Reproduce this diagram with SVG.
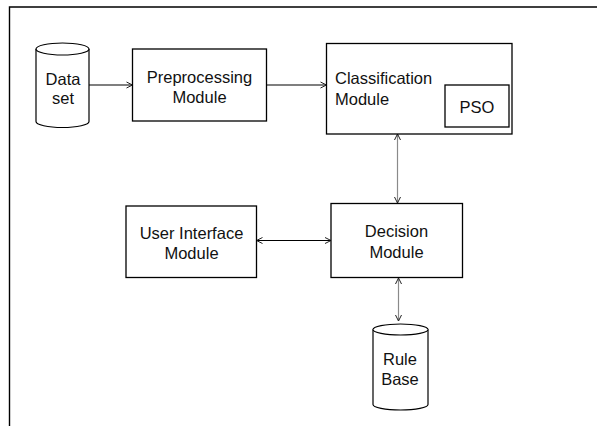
<svg xmlns="http://www.w3.org/2000/svg" width="599" height="426" viewBox="0 0 599 426">
  <defs>
    <marker id="arr" viewBox="0 0 8 8" refX="7" refY="4" markerWidth="8" markerHeight="8" markerUnits="userSpaceOnUse" orient="auto-start-reverse">
      <path d="M1,1 L7,4 L1,7" fill="none" stroke="#222" stroke-width="1"/>
    </marker>
  </defs>
  <style>
    .box { fill: #fff; stroke: #000; stroke-width: 1.3; }
    .cyl { fill: #fff; stroke: #000; stroke-width: 1.2; }
    .lbl { font-family: "Liberation Sans", Arial, sans-serif; font-size: 16.5px; fill: #111; }
    .mid { text-anchor: middle; }
    .line { fill: none; stroke: #000; stroke-width: 1.1; }
    .grey { fill: none; stroke: #8a8a8a; stroke-width: 1.2; }
    .frame { fill: none; stroke: #000; stroke-width: 1.4; }
  </style>
  <rect width="599" height="426" fill="#fff"/>

  <!-- page frame -->
  <path class="frame" d="M9.5,426 L9.5,7 L597,7"/>

  <g id="connectors">
    <line class="line" x1="89" y1="85" x2="132.5" y2="85" marker-end="url(#arr)"/>
    <line class="line" x1="266.5" y1="85" x2="326.5" y2="85" marker-end="url(#arr)"/>
    <line class="grey" x1="397.5" y1="134" x2="397.5" y2="203" marker-start="url(#arr)" marker-end="url(#arr)"/>
    <line class="line" x1="256.5" y1="240.5" x2="331" y2="240.5" marker-start="url(#arr)" marker-end="url(#arr)"/>
    <line class="grey" x1="398.5" y1="278" x2="398.5" y2="321" marker-start="url(#arr)" marker-end="url(#arr)"/>
  </g>

  <g id="dataset">
    <path class="cyl" d="M36,49 A26.5,6 0 0 1 89,49 L89,121.5 A26.5,6 0 0 1 36,121.5 Z"/>
    <path class="cyl" d="M36,49 A26.5,6 0 0 0 89,49" fill="none"/>
    <text class="lbl mid" x="63" y="85">Data</text>
    <text class="lbl mid" x="63" y="104">set</text>
  </g>

  <g id="preprocessing">
    <rect class="box" x="132.5" y="49" width="134" height="72"/>
    <text class="lbl mid" x="199.5" y="83">Preprocessing</text>
    <text class="lbl mid" x="199.5" y="102.5">Module</text>
  </g>

  <g id="classification">
    <rect class="box" x="326.5" y="43.5" width="185.5" height="90.5"/>
    <text class="lbl" x="335" y="84">Classification</text>
    <text class="lbl" x="335" y="105">Module</text>
    <g id="pso">
      <rect class="box" x="445" y="85" width="64" height="42"/>
      <text class="lbl mid" x="477" y="112.5">PSO</text>
    </g>
  </g>

  <g id="userinterface">
    <rect class="box" x="126" y="206" width="130.5" height="71.5"/>
    <text class="lbl mid" x="191.5" y="238.5">User Interface</text>
    <text class="lbl mid" x="191.5" y="258.5">Module</text>
  </g>

  <g id="decision">
    <rect class="box" x="331" y="203.5" width="131.5" height="74"/>
    <text class="lbl mid" x="396.5" y="237">Decision</text>
    <text class="lbl mid" x="396.5" y="257.5">Module</text>
  </g>

  <g id="rulebase">
    <path class="cyl" d="M373,329.5 A27.5,5.5 0 0 1 428,329.5 L428,404.5 A27.5,5.5 0 0 1 373,404.5 Z"/>
    <path class="cyl" d="M373,329.5 A27.5,5.5 0 0 0 428,329.5" fill="none"/>
    <text class="lbl mid" x="400" y="365">Rule</text>
    <text class="lbl mid" x="400" y="385">Base</text>
  </g>
</svg>
